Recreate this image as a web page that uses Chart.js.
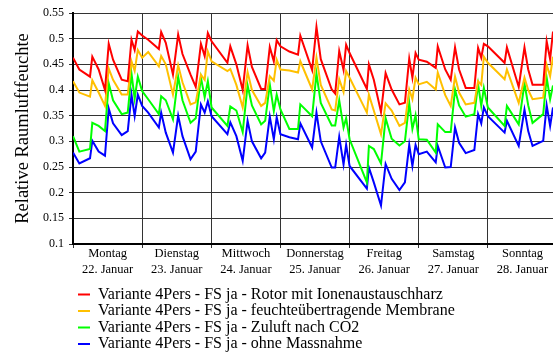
<!DOCTYPE html>
<html>
<head>
<meta charset="utf-8">
<script src="https://cdn.jsdelivr.net/npm/chart.js@4.4.1/dist/chart.umd.min.js"></script>
<style>
  html, body { margin: 0; padding: 0; background: #fff; }
  #wrap { width: 553px; height: 356px; position: relative; }
</style>
</head>
<body>
<div id="wrap"><canvas id="humChart"></canvas></div>
<script>
(function () {
  'use strict';

  // time in hours from Monday 22. Januar 0:00
  const hours = [
    0, 2.2, 5.9, 6.7, 8.9, 11.1, 12.4, 13.9, 16.9, 19.0, 20.3, 21.4, 22.5,
    24.0, 26.1, 29.8, 30.6, 32.2, 34.7, 36.5, 38.0, 40.8, 42.6, 44.4, 45.7, 46.8,
    48.1, 53.6, 54.6, 56.7, 58.9, 60.6, 62.1, 65.3, 66.7, 68.3, 69.7, 70.7,
    72.0, 75.1, 78.1, 78.9, 83.0, 84.5, 86.0, 89.8, 91.0, 92.4, 93.9, 94.8,
    96.0, 102.0, 102.7, 104.4, 106.9, 108.5, 110.6, 113.3, 115.2, 116.7, 117.8, 118.9,
    120.0, 122.8, 125.9, 126.6, 129.2, 131.1, 132.6, 134.0, 136.3, 139.3, 140.6, 141.7, 142.6,
    144.0, 149.8, 150.6, 154.7, 156.7, 158.0, 159.5, 163.2, 164.4, 165.6, 166.6
  ];

  const rotor = [
    0.463, 0.44, 0.426, 0.465, 0.44, 0.40, 0.49, 0.459, 0.42, 0.417, 0.498, 0.478, 0.514,
    0.506, 0.498, 0.48, 0.513, 0.492, 0.43, 0.508, 0.47, 0.43, 0.406, 0.49, 0.466, 0.511,
    0.495, 0.453, 0.485, 0.45, 0.40, 0.487, 0.445, 0.402, 0.402, 0.484, 0.456, 0.497,
    0.485, 0.475, 0.469, 0.506, 0.439, 0.523, 0.46, 0.401, 0.393, 0.476, 0.439, 0.488,
    0.472, 0.402, 0.45, 0.42, 0.357, 0.433, 0.401, 0.372, 0.375, 0.461, 0.424, 0.472,
    0.459, 0.455, 0.443, 0.485, 0.44, 0.42, 0.483, 0.44, 0.404, 0.404, 0.482, 0.463, 0.49,
    0.485, 0.453, 0.483, 0.406, 0.483, 0.44, 0.41, 0.41, 0.495, 0.46, 0.514
  ];

  const membrane = [
    0.417, 0.395, 0.387, 0.419, 0.395, 0.369, 0.442, 0.42, 0.391, 0.391, 0.456, 0.437, 0.478,
    0.463, 0.474, 0.446, 0.466, 0.45, 0.391, 0.448, 0.415, 0.372, 0.376, 0.43, 0.42, 0.475,
    0.456, 0.437, 0.441, 0.41, 0.366, 0.435, 0.40, 0.369, 0.375, 0.427, 0.418, 0.459,
    0.44, 0.438, 0.434, 0.456, 0.401, 0.463, 0.41, 0.362, 0.36, 0.421, 0.396, 0.437,
    0.424, 0.356, 0.391, 0.36, 0.314, 0.374, 0.36, 0.33, 0.336, 0.401, 0.382, 0.424,
    0.411, 0.416, 0.401, 0.434, 0.39, 0.369, 0.426, 0.395, 0.372, 0.375, 0.417, 0.41, 0.465,
    0.453, 0.421, 0.44, 0.375, 0.424, 0.40, 0.382, 0.385, 0.449, 0.427, 0.465
  ];

  const zuluft = [
    0.31, 0.28, 0.285, 0.336, 0.33, 0.32, 0.413, 0.38, 0.353, 0.356, 0.432, 0.383, 0.426,
    0.398, 0.382, 0.353, 0.388, 0.38, 0.343, 0.426, 0.38, 0.336, 0.345, 0.424, 0.386, 0.417,
    0.366, 0.33, 0.368, 0.36, 0.318, 0.409, 0.37, 0.333, 0.34, 0.411, 0.359, 0.391,
    0.362, 0.324, 0.324, 0.372, 0.349, 0.432, 0.375, 0.331, 0.331, 0.38, 0.327, 0.345,
    0.304, 0.22, 0.291, 0.285, 0.257, 0.345, 0.305, 0.292, 0.30, 0.375, 0.324, 0.351,
    0.304, 0.303, 0.278, 0.333, 0.318, 0.318, 0.401, 0.37, 0.348, 0.353, 0.411, 0.369, 0.404,
    0.366, 0.33, 0.369, 0.333, 0.413, 0.37, 0.336, 0.353, 0.424, 0.382, 0.409
  ];

  const ohne = [
    0.278, 0.257, 0.267, 0.301, 0.28, 0.272, 0.364, 0.335, 0.312, 0.32, 0.391, 0.349, 0.391,
    0.369, 0.356, 0.327, 0.356, 0.317, 0.278, 0.35, 0.31, 0.265, 0.28, 0.372, 0.356, 0.378,
    0.349, 0.314, 0.337, 0.31, 0.262, 0.34, 0.30, 0.267, 0.278, 0.348, 0.304, 0.347,
    0.314, 0.308, 0.304, 0.335, 0.288, 0.356, 0.30, 0.249, 0.249, 0.309, 0.255, 0.293,
    0.252, 0.208, 0.249, 0.22, 0.175, 0.256, 0.227, 0.205, 0.22, 0.293, 0.252, 0.293,
    0.275, 0.28, 0.259, 0.291, 0.249, 0.25, 0.327, 0.297, 0.277, 0.283, 0.353, 0.335, 0.366,
    0.349, 0.317, 0.34, 0.291, 0.362, 0.32, 0.291, 0.301, 0.37, 0.33, 0.366
  ];

  const seriesLabels = [
    'Variante 4Pers - FS ja - Rotor mit Ionenaustauschharz',
    'Variante 4Pers - FS ja - feuchteübertragende Membrane',
    'Variante 4Pers - FS ja - Zuluft nach CO2',
    'Variante 4Pers - FS ja - ohne Massnahme'
  ];
  const seriesColors = ['#ff0000', '#ffc000', '#00ff00', '#0000ff'];

  const dayTicks = [0, 24, 48, 72, 96, 120, 144];
  const dayNames = ['Montag', 'Dienstag', 'Mittwoch', 'Donnerstag', 'Freitag', 'Samstag', 'Sonntag'];
  const dayDates = ['22. Januar', '23. Januar', '24. Januar', '25. Januar', '26. Januar', '27. Januar', '28. Januar'];
  const yTicks = [0.1, 0.15, 0.2, 0.25, 0.3, 0.35, 0.4, 0.45, 0.5, 0.55];

  const serif = "'Liberation Serif', 'Times New Roman', serif";
  Chart.defaults.font.family = serif;
  Chart.defaults.color = '#000';

  const allSeries = [rotor, membrane, zuluft, ohne];
  const datasets = allSeries.map((vals, i) => ({
    label: seriesLabels[i],
    data: vals.map((v, j) => ({ x: hours[j], y: v })),
    borderColor: seriesColors[i],
    backgroundColor: seriesColors[i],
    borderWidth: 2,
    pointRadius: 0,
    tension: 0,
    fill: false
  }));

  // move the legend to where the original puts it
  const legendPlace = {
    id: 'legendPlace',
    afterLayout(chart) {
      const lg = chart.legend;
      if (!lg) return;
      const h = lg.bottom - lg.top;
      lg.left = 77.5;
      lg.top = 286;
      lg.bottom = lg.top + h;
    }
  };

  const ctx = document.getElementById('humChart').getContext('2d');
  window.humChart = new Chart(ctx, {
    type: 'line',
    data: { datasets: datasets },
    plugins: [legendPlace],
    options: {
      responsive: true,
      maintainAspectRatio: false,
      animation: false,
      layout: { padding: { top: 13, left: 0, right: 0, bottom: 0 } },
      scales: {
        x: {
          type: 'linear',
          min: 0,
          max: 166.6,
          afterBuildTicks: axis => { axis.ticks = dayTicks.map(v => ({ value: v })); },
          afterFit: scale => { scale.height = 36; },
          grid: { color: '#333', lineWidth: 1, tickLength: 4 },
          border: { color: '#000', width: 2 },
          ticks: {
            autoSkip: false,
            maxRotation: 0,
            labelOffset: 34.6,
            padding: -2,
            font: { size: 12.5, lineHeight: 1.28 },
            color: '#000',
            callback: (v, i) => [dayNames[i], dayDates[i]]
          }
        },
        y: {
          min: 0.1,
          max: 0.55,
          afterBuildTicks: axis => { axis.ticks = yTicks.map(v => ({ value: v })); },
          afterFit: scale => { scale.width = 73; },
          grid: { color: '#333', lineWidth: 1, tickLength: 4 },
          border: { color: '#000', width: 2 },
          ticks: {
            padding: 5,
            font: { size: 12 },
            color: '#000',
            callback: v => String(Number(v.toFixed(2)))
          },
          title: {
            display: true,
            text: 'Relative Raumluftfeuchte',
            font: { size: 18.5 },
            color: '#000',
            padding: { top: 12, bottom: 0 }
          }
        }
      },
      plugins: {
        legend: {
          display: true,
          position: 'bottom',
          align: 'start',
          labels: {
            boxWidth: 12,
            boxHeight: 2,
            padding: 0.5,
            color: '#000',
            font: { size: 16 },
            generateLabels: chart => Chart.defaults.plugins.legend.labels.generateLabels(chart)
              .map(l => Object.assign(l, { lineWidth: 0 }))
          }
        },
        tooltip: { enabled: false }
      }
    }
  });
})();
</script>
</body>
</html>
